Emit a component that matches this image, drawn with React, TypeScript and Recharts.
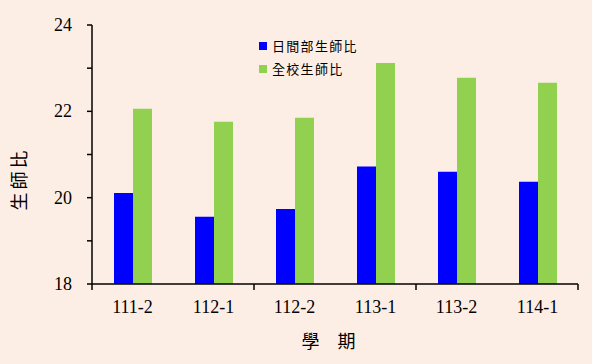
import { BarChart, Bar, XAxis, YAxis, Legend } from 'recharts';

const terms = ['111-2', '112-1', '112-2', '113-1', '113-2', '114-1'];
const dayRatio = [20.11, 19.56, 19.74, 20.72, 20.6, 20.37];
const schoolRatio = [22.06, 21.76, 21.85, 23.12, 22.78, 22.66];
const yTicks = [18, 19, 20, 21, 22, 23, 24];

const seriesNames = { day: '日間部生師比', school: '全校生師比' };
const BLUE = '#0000FF';
const GREEN = '#92D050';
const BG = '#FDEEE5';
const SERIF = '"Liberation Serif", "Times New Roman", serif';
const CJK = '"Noto Sans CJK TC", "Noto Sans CJK SC", sans-serif';

const data = terms.map((term, i) => ({
  term,
  day: dayRatio[i],
  school: schoolRatio[i],
}));

// category labels in the middle, tick marks only on every second band edge
function TermTick(props: any) {
  const { x, y, payload, index } = props;
  const half = payload.offset || 40.5;
  const marks: number[] = [];
  if (index % 2 === 0) marks.push(x - half);
  if (index === terms.length - 1) marks.push(x + half);
  return (
    <g>
      {marks.map((mx) => (
        <line key={mx} x1={mx} x2={mx} y1={y - 8} y2={y - 2} stroke="#000" strokeWidth={1.5} />
      ))}
      <text x={x} y={y + 21} textAnchor="middle" fontFamily={SERIF} fontSize={18} fill="#000">
        {payload.value}
      </text>
    </g>
  );
}

function RatioTick(props: any) {
  const { x, y, payload } = props;
  if (payload.value % 2 !== 0) return <g />;
  return (
    <text x={x - 13} y={y + 6} textAnchor="end" fontFamily={SERIF} fontSize={18} fill="#000">
      {payload.value}
    </text>
  );
}

function LegendBox() {
  const rows = [
    { name: seriesNames.day, color: BLUE },
    { name: seriesNames.school, color: GREEN },
  ];
  return (
    <div style={{ fontFamily: CJK, fontSize: 13, color: '#000', lineHeight: '23px' }}>
      {rows.map((r) => (
        <div key={r.name} style={{ display: 'flex', alignItems: 'center' }}>
          <span style={{ width: 8, height: 8, background: r.color, marginRight: 5, display: 'inline-block' }} />
          <span style={{ letterSpacing: 1.3 }}>{r.name}</span>
        </div>
      ))}
    </div>
  );
}

export default function App() {
  return (
    <div style={{ position: 'fixed', left: 0, top: 0, width: 592, height: 364, background: BG }}>
      <BarChart
        width={592}
        height={364}
        data={data}
        margin={{ top: 25, right: 14, bottom: 10, left: 0 }}
        barGap={0}
        barSize={19}
      >
        <XAxis
          dataKey="term"
          height={70}
          axisLine={{ stroke: '#000', strokeWidth: 1.5 }}
          tickLine={false}
          tick={<TermTick />}
          interval={0}
          label={(p: any) => {
            const vb = p.viewBox;
            return (
              <text
                x={328.5}
                y={vb.y + 64}
                textAnchor="middle"
                fontFamily={CJK}
                fontSize={18}
                fill="#000"
              >
                學　期
              </text>
            );
          }}
        />
        <XAxis
          xAxisId="top"
          orientation="top"
          dataKey="term"
          height={0}
          tick={false}
          tickLine={false}
          axisLine={{ stroke: '#000', strokeWidth: 1.5 }}
        />
        <YAxis
          domain={[18, 24]}
          ticks={yTicks}
          width={92}
          interval={0}
          tickSize={5}
          axisLine={{ stroke: '#000', strokeWidth: 1.5 }}
          tickLine={{ stroke: '#000', strokeWidth: 1.5 }}
          tick={<RatioTick />}
          label={() => (
            <text
              x={26}
              y={179}
              transform="rotate(-90 26 179)"
              textAnchor="middle"
              fontFamily={CJK}
              fontSize={18}
              letterSpacing={3}
              fill="#000"
            >
              生師比
            </text>
          )}
        />
        <YAxis
          yAxisId="right"
          orientation="right"
          domain={[18, 24]}
          width={0}
          tick={false}
          tickLine={false}
          axisLine={{ stroke: '#000', strokeWidth: 1.5 }}
        />
        <Legend
          layout="vertical"
          align="center"
          verticalAlign="middle"
          content={() => <LegendBox />}
          wrapperStyle={{ left: 259, top: 34, width: 140 }}
        />
        <Bar dataKey="day" name={seriesNames.day} fill={BLUE} isAnimationActive={false} />
        <Bar dataKey="school" name={seriesNames.school} fill={GREEN} isAnimationActive={false} />
      </BarChart>
    </div>
  );
}
